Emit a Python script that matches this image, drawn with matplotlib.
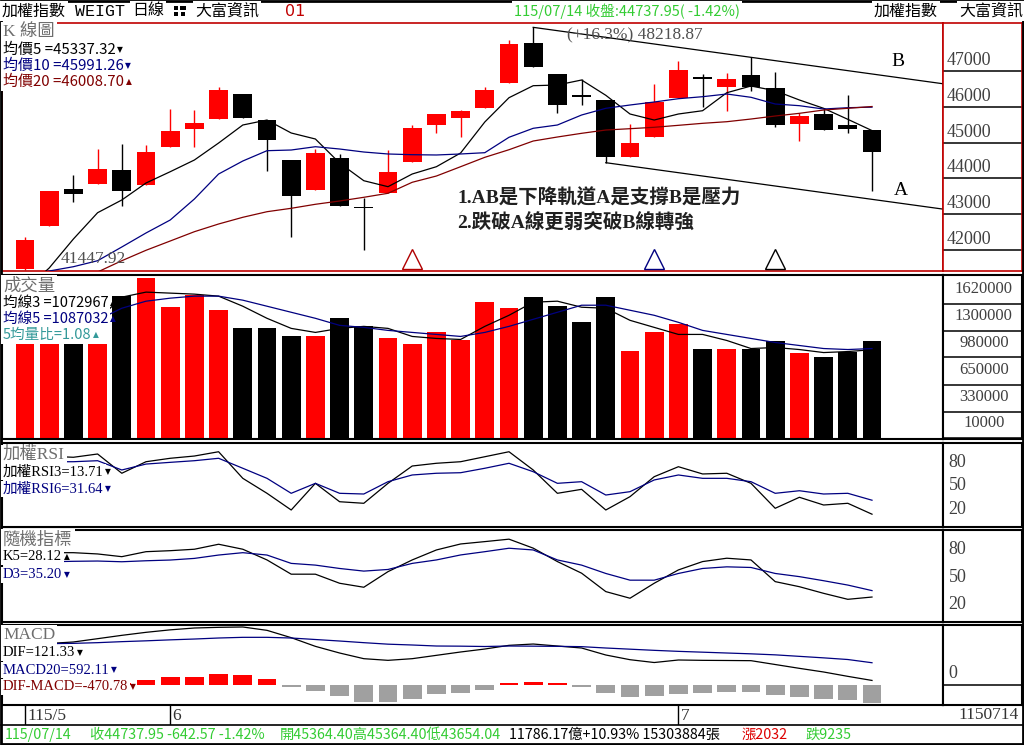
import matplotlib
matplotlib.use("Agg")
import matplotlib.pyplot as plt
from matplotlib.patches import Rectangle
from matplotlib.transforms import blended_transform_factory
import numpy as np

W, H = 1024, 745
SANS = ["Noto Sans CJK TC", "DejaVu Sans"]
SERIF = ["Liberation Serif", "Noto Sans CJK TC"]
MONO = ["Liberation Mono", "Noto Sans CJK TC"]

RED = "#FF0000"
NAVY = "#000080"
MAROON = "#800000"
TITLE_GRAY = "#6E6E6E"
GREEN = "#33CC33"
HIST_GRAY = "#A0A0A0"

# ---------------- data ----------------
opens = [41465, 42682, 43698, 43855, 44237, 43827, 44887, 45390, 45669, 46358,
         45632, 44516, 43687, 44580, 43190, 43603, 44469, 45501, 45688, 45976,
         46673, 47781, 46916, 46330, 46191, 44608, 45166, 46255, 46824, 46562,
         46888, 46534, 45521, 45808, 45493, 45364.40]
highs = [42375, 43660, 44097, 44823, 44963, 44935, 45939, 45912, 46562, 46370,
         45640, 44520, 44815, 44675, 43447, 44795, 45493, 45810, 45900, 46562,
         47865, 48218.87, 46920, 46768, 46200, 45521, 46637, 47279, 46916, 46953,
         47382, 46980, 45819, 45959, 46322, 45364.40]
lows = [41447.92, 42670, 43352, 43855, 43241, 43827, 44887, 44887, 45669, 45690,
        44217, 42375, 43687, 43241, 42004, 43603, 44469, 45278, 45166, 45976,
        46673, 47120, 45836, 46051, 44441, 44608, 45166, 46255, 46004, 45892,
        46450, 45445, 45055, 45362, 45278, 43654.04]
closes = [42283, 43651, 43559, 44265, 43659, 44739, 45325, 45549, 46470, 45697,
          45083, 43520, 44703, 43241, 43170, 44181, 45418, 45800, 45892, 46470,
          47754, 47120, 46059, 46266, 44591, 44982, 46143, 47028, 46768, 46777,
          46562, 45493, 45752, 45362, 45380.52, 44737.95]

ma5 = [40888, 41502, 42311, 43045, 43400, 43874, 44189, 44516, 44990, 45493,
       45632, 45270, 45102, 44432, 43938, 43771, 44125, 44329, 44711, 45577,
       46255, 46590, 46609, 46749, 46322, 45800, 45632, 45800, 45892, 46394,
       46581, 46450, 46191, 45959, 45652, 45337.32]
ma10 = [41278, 41418, 41538, 41705, 42088, 42479, 42841, 43428, 44125, 44488,
        44776, 44795, 44887, 44823, 44739, 44684, 44664, 44656, 44684, 44720,
        45150, 45401, 45493, 45772, 45959, 46051, 46135, 46227, 46283, 46358,
        46266, 46079, 46032, 45939, 45976, 45991.26]
ma20 = [41027, 41167, 41278, 41390, 41705, 41996, 42255, 42515, 42730, 42917,
        43073, 43168, 43280, 43372, 43475, 43587, 43894, 44069, 44329, 44591,
        44803, 45046, 45158, 45261, 45353, 45390, 45429, 45484, 45540, 45585,
        45660, 45744, 45819, 45911, 45959, 46008.70]

volumes = [1136000, 1136000, 1136000, 1136000, 1717000, 1935000, 1587000, 1729000, 1547000, 1329000,
           1329000, 1236000, 1233000, 1450000, 1354000, 1208000, 1136000, 1281000, 1184000, 1644000,
           1572000, 1705000, 1596000, 1402000, 1705000, 1063000, 1281000, 1378000, 1087000, 1087000,
           1087000, 1180000, 1036000, 990000, 1050000, 1178617]
vol_ma3 = [1430000, 1430000, 1430000, 1430000, 1704700, 1765300, 1753200, 1741100, 1716900, 1595800,
           1450500, 1329400, 1281000, 1329400, 1353600, 1329400, 1232600, 1208400, 1196300, 1353600,
           1486800, 1644200, 1656300, 1583700, 1571600, 1426300, 1341500, 1256800, 1256800, 1184100,
           1087300, 1099400, 1075200, 1038900, 1050900, 1072967]
vol_ma5 = [1430000, 1430000, 1430000, 1430000, 1571600, 1656300, 1692600, 1716900, 1716900, 1668400,
           1595800, 1523100, 1450500, 1365800, 1341500, 1305200, 1281000, 1256800, 1232600, 1281000,
           1353600, 1438400, 1523100, 1607900, 1607900, 1547400, 1486800, 1402100, 1305200, 1256800,
           1208400, 1160000, 1123600, 1087300, 1075200, 1087032]

rsi3 = [85, 88, 86.7, 90.9, 66.2, 81, 85.4, 88.3, 93.8, 59.7, 40.5, 19.1, 53.3, 29.7, 27.7, 53.3,
        75.5, 79, 81, 87.4, 93.8, 70.4, 40.5, 45.6, 19.1, 36.2, 61.8, 74.6, 65.3, 66.2, 53.3, 21.3,
        35.4, 25.5, 27.7, 13.71]
rsi6 = [80, 81, 81, 82.3, 70.4, 78, 80.2, 82.3, 85.4, 72.6, 59.7, 40.5, 53.3, 40.5, 39.6, 55.4,
        64, 66.2, 66.9, 72.6, 79, 68.2, 53.3, 55.4, 38.3, 42.6, 57.6, 64, 59.7, 59.7, 55.4, 40.5,
        43.8, 39.6, 40.5, 31.64]

k5 = [76, 77, 77, 75.6, 72.6, 78.1, 79.2, 80.8, 86.3, 80.8, 69, 53.3, 53.3, 43.3, 38.9, 56.1,
      69, 80, 86.6, 89.2, 91.9, 82, 67.2, 54.4, 34.1, 26.8, 43.3, 58, 67.2, 70.9, 69, 45.1,
      39.5, 32.2, 25.6, 28.12]
d3 = [67, 67, 67.5, 67.8, 67, 68.1, 68.9, 70.7, 74.4, 77, 74.4, 65.2, 63.3, 59.6, 56.7, 58.5,
      65.2, 69, 74.5, 78.1, 81.9, 80, 69, 63.3, 54.1, 46.7, 46.7, 54.1, 59.6, 61.4, 60.7, 54.1,
      50.6, 46.1, 41.3, 35.2]

dif = [1100, 1105, 1144, 1232, 1321, 1401, 1467, 1516, 1534, 1543, 1454, 1259, 1028, 851, 700, 656,
       700, 789, 878, 957, 1055, 1090, 1037, 984, 798, 673, 598, 665, 656, 652, 647, 545,
       443, 346, 230, 121.33]
macd = [1095, 1100, 1108, 1126, 1153, 1175, 1201, 1223, 1250, 1268, 1268, 1250, 1210, 1170, 1126, 1086,
        1064, 1037, 1033, 1024, 1037, 1033, 1028, 1020, 984, 953, 922, 895, 873, 851, 829, 802,
        762, 722, 678, 592.11]
osc = [-270, -170, -90, -20, 50, 133, 204, 221, 293, 275, 160, -15, -152, -293, -443, -443,
       -372, -239, -204, -133, 30, 88, 30, -15, -204, -310, -293, -239, -204, -177, -177, -266,
       -310, -381, -400, -470.78]

price_ticks = [47000, 46000, 45000, 44000, 43000, 42000]
vol_ticks = [1620000, 1300000, 980000, 650000, 330000, 10000]
osc_ticks = [80, 50, 20]
month_ticks = [0, 6, 27]
month_labels = ["115/5", "6", "7"]

channel_b = (21, 30)   # B line drawn through the highs of these two bars
channel_a = 24         # A line starts at this bar's low, parallel to B
signal_idx = [16, 26, 31]
signal_colors = ["#B00000", NAVY, "black"]

# ---------------- layout helpers ----------------
BAR_X0, BAR_DX = 25.0, 24.2   # pixel centre of bar 0 and bar pitch

fig = plt.figure(figsize=(W / 100, H / 100), dpi=100)
fig.patch.set_facecolor("white")


def px_axes(x0, y0, x1, y1, **kw):
    return fig.add_axes([x0 / W, 1 - y1 / H, (x1 - x0) / W, (y1 - y0) / H], **kw)


def xr(a, b):
    return ((a - BAR_X0) / BAR_DX, (b - BAR_X0) / BAR_DX)


def frame(ax, color="black", lw=1.5):
    ax.set_xticks([])
    ax.set_yticks([])
    for s in ax.spines.values():
        s.set_color(color)
        s.set_linewidth(lw)


n = len(closes)
idx = np.arange(n)
o, h, l, c = map(np.asarray, (opens, highs, lows, closes))
up = c > o
bar_col = np.where(up, RED, "black")

# ---------------- K panel ----------------
axk = px_axes(2, 23, 943, 271)
axk.set_xlim(*xr(2, 943))
axk.set_ylim(41418, 48340)
frame(axk, "#C00000", 1.2)
axk.vlines(idx, l, h, colors=bar_col, lw=1, zorder=2)
body_lo = np.minimum(o, c)
body_h = np.maximum(np.abs(c - o), 45)
axk.bar(idx, body_h, bottom=body_lo, width=0.78, color=bar_col, lw=0, zorder=3)
axk.plot(idx, ma5, color="black", lw=0.9, zorder=4)
axk.plot(idx, ma10, color=NAVY, lw=0.9, zorder=4)
axk.plot(idx, ma20, color=MAROON, lw=0.9, zorder=4)

b0, b1 = channel_b
slope = (h[b1] - h[b0]) / (b1 - b0)
x_end = axk.get_xlim()[1]
axk.plot([b0, x_end], [h[b0], h[b0] + slope * (x_end - b0)], color="black", lw=0.9, zorder=4)
axk.plot([channel_a, x_end], [l[channel_a], l[channel_a] + slope * (x_end - channel_a)],
         color="black", lw=0.9, zorder=4)

trans = blended_transform_factory(axk.transData, axk.transAxes)
for i, col in zip(signal_idx, signal_colors):
    axk.plot(i, 0.05, marker="^", ms=15, mfc="white", mec=col, mew=1.0,
             transform=trans, zorder=5)

axkr = px_axes(943, 23, 1022, 271)
axkr.set_xlim(0, 1)
axkr.set_ylim(axk.get_ylim())
frame(axkr, "#C00000", 1.2)
for p in price_ticks:
    axkr.axhline(p, color="black", lw=1.1)
    axkr.annotate(f"{p}", xy=(0.05, p), xytext=(0, 1.5), textcoords="offset points",
                  ha="left", va="bottom", fontsize=13, family=SERIF, color="#404040")

axk.annotate(f"(+16.3%) {h[b0]:.2f}", xy=(b0, h[b0]), xytext=(24.5, -6), textcoords="offset points",
             ha="left", va="center", fontsize=12.5, family=SERIF, color="#505050", zorder=6)
i_low = int(np.argmin(l))
axk.annotate(f"{l[i_low]:.2f}", xy=(i_low, l[i_low]), xytext=(26, 8), textcoords="offset points",
             ha="left", va="center", fontsize=12.5, family=SERIF, color="#505050", zorder=6)
axk.text(0.952, 0.843, "B", transform=axk.transAxes, fontsize=14, family=SERIF, ha="center", va="center")
axk.text(0.955, 0.323, "A", transform=axk.transAxes, fontsize=14, family=SERIF, ha="center", va="center")

# ---------------- volume panel ----------------
axv = px_axes(2, 275, 943, 439)
axv.set_xlim(*xr(2, 943))
axv.set_ylim(0, 1971000)
frame(axv)
axv.bar(idx, volumes, width=0.78, color=bar_col, lw=0, zorder=2)
axv.plot(idx, vol_ma3, color="black", lw=0.9, zorder=3)
axv.plot(idx, vol_ma5, color=NAVY, lw=0.9, zorder=3)

axvr = px_axes(943, 275, 1022, 439)
axvr.set_xlim(0, 1)
axvr.set_ylim(axv.get_ylim())
frame(axvr)
for v in vol_ticks:
    axvr.axhline(v, color="black", lw=1.1)
    axvr.annotate(f"{v}", xy=(0.5, v), xytext=(1, 5), textcoords="offset points",
                  ha="center", va="bottom", fontsize=12, family=SERIF, color="#404040")

# ---------------- RSI / KD panels ----------------
def osc_panel(y0, y1, lim, s1, s2):
    ax = px_axes(2, y0, 943, y1)
    ax.set_xlim(*xr(2, 943))
    ax.set_ylim(*lim)
    frame(ax)
    ax.plot(idx, s1, color="black", lw=0.9)
    ax.plot(idx, s2, color=NAVY, lw=0.9)
    axr = px_axes(943, y0, 1022, y1)
    axr.set_xlim(0, 1)
    axr.set_ylim(*lim)
    frame(axr)
    for t in osc_ticks:
        axr.text(0.07, t, f"{t}", ha="left", va="center", fontsize=13, family=SERIF, color="#404040")
    return ax


ax_rsi = osc_panel(443, 527, (-2.7, 105), rsi3, rsi6)
ax_kd = osc_panel(530, 622, (0.6, 102), k5, d3)

# ---------------- MACD panel ----------------
axm = px_axes(2, 625, 943, 705)
axm.set_xlim(*xr(2, 943))
axm.set_ylim(-532, 1596)
frame(axm)
osc_arr = np.asarray(osc)
osc_draw = np.where(np.abs(osc_arr) < 40, np.sign(osc_arr) * 40, osc_arr)
axm.bar(idx, osc_draw, width=0.78, color=np.where(osc_arr > 0, RED, HIST_GRAY), lw=0, zorder=2)
axm.plot(idx, dif, color="black", lw=0.9, zorder=3)
axm.plot(idx, macd, color=NAVY, lw=0.9, zorder=3)

axmr = px_axes(943, 625, 1022, 705)
axmr.set_xlim(0, 1)
axmr.set_ylim(axm.get_ylim())
frame(axmr)
axmr.axhline(0, color="black", lw=1.1)
axmr.annotate("0", xy=(0.07, 0), xytext=(0, 2), textcoords="offset points",
              ha="left", va="bottom", fontsize=13, family=SERIF, color="#404040")

# ---------------- date row ----------------
axd = px_axes(2, 706, 943, 725)
axd.set_xlim(*xr(2, 943))
axd.set_ylim(0, 1)
axd.axis("off")
for t, s in zip(month_ticks, month_labels):
    axd.axvline(t, color="black", lw=1)
    axd.text(t + 0.1, 0.45, s, ha="left", va="center", fontsize=12.5, family=SERIF, color="#333333")

# ---------------- overlay: header, footer, legends ----------------
bg = fig.add_axes([0, 0, 1, 1], zorder=10)
bg.set_xlim(0, W)
bg.set_ylim(H, 0)
bg.axis("off")
bg.patch.set_alpha(0)

bg.add_patch(Rectangle((1, 1), W - 2, H - 2, fill=False, ec="black", lw=2))
bg.plot([1, W - 1], [725, 725], color="black", lw=1.2)
bg.text(1019, 715, "1150714", ha="right", va="center", fontsize=12.5, family=SERIF, color="#333333")


def label(x, y, s, color, size, family=SANS, mark=None):
    t = bg.text(x, y, s, color=color, fontsize=size, family=family, ha="left", va="center",
                bbox=dict(boxstyle="square,pad=0.12", fc="white", ec="none"))
    if mark:
        bg.annotate(mark, xy=(1, 0.22), xycoords=t, xytext=(1.2, 0), textcoords="offset points",
                    ha="left", va="bottom", fontsize=5.5, color=color, family=["DejaVu Sans"])
    return t


# header
label(2, 11, "加權指數", "black", 11.5)
bg.text(75, 11, "WEIGT", fontsize=12, family=MONO, ha="left", va="center")
label(132, 11, "日線", "black", 11.5)
for rx, ry, rw in [(174, 6, 4), (180, 6, 6), (174, 12, 4), (181, 12, 4)]:
    bg.add_patch(Rectangle((rx, ry), rw, 4, color="black", lw=0))
label(195, 11, "大富資訊", "black", 11.5)
bg.text(285, 11, "01", fontsize=11.5, family=["DejaVu Sans"], color="#C00000", ha="left", va="center")
label(514, 11, "115/07/14 收盤:44737.95( -1.42%)", GREEN, 10.5)
label(874, 11, "加權指數", "black", 11.5)
label(959, 11, "大富資訊", "black", 11.5)

# K panel legends
label(3, 32, "K 線圖", TITLE_GRAY, 12.5, SERIF)
label(3, 50, "均價5 =45337.32", "black", 10.8, mark="▼")
label(3, 66, "均價10 =45991.26", NAVY, 10.8, mark="▼")
label(3, 82, "均價20 =46008.70", MAROON, 10.8, mark="▲")
bg.text(457, 198, "1.AB是下降軌道A是支撐B是壓力", fontsize=14, family=SERIF, color="#202020",
        ha="left", va="center", weight="bold")
bg.text(457, 223, "2.跌破A線更弱突破B線轉強", fontsize=14, family=SERIF, color="#202020",
        ha="left", va="center", weight="bold")

# volume legends
label(3, 286, "成交量", TITLE_GRAY, 12.5)
label(3, 303, "均線3 =1072967", "black", 10.5, mark="▲")
label(3, 319, "均線5 =1087032", NAVY, 10.5, mark="▲")
label(3, 335, "5均量比=1.08", "#339999", 10.5, mark="▲")

# RSI legends
label(3, 455, "加權RSI", TITLE_GRAY, 12.5, SERIF)
label(3, 472, "加權RSI3=13.71", "black", 10.5, SERIF, mark="▼")
label(3, 489, "加權RSI6=31.64", NAVY, 10.5, SERIF, mark="▼")

# KD legends
label(3, 540, "隨機指標", TITLE_GRAY, 12.5)
label(3, 557, "K5=28.12", "black", 10.5, SERIF, mark="▲")
label(3, 575, "D3=35.20", NAVY, 10.5, SERIF, mark="▼")

# MACD legends
label(3, 635, "MACD", TITLE_GRAY, 12.5, SERIF)
label(3, 653, "DIF=121.33", "black", 10.5, SERIF, mark="▼")
label(3, 670, "MACD20=592.11", NAVY, 10.5, SERIF, mark="▼")
label(3, 687, "DIF-MACD=-470.78", MAROON, 10.5, SERIF, mark="▼")

# footer
FOOT = 10.3
bg.text(5, 735, "115/07/14", fontsize=FOOT, family=SANS, color=GREEN, ha="left", va="center")
bg.text(90, 735, "收44737.95 -642.57 -1.42%", fontsize=FOOT, family=SANS, color=GREEN, ha="left", va="center")
bg.text(280, 735, "開45364.40高45364.40低43654.04", fontsize=FOOT, family=SANS, color=GREEN,
        ha="left", va="center")
bg.text(509, 735, "11786.17億+10.93% 15303884張", fontsize=FOOT, family=SANS, color="black",
        ha="left", va="center")
bg.text(742, 735, "漲2032", fontsize=FOOT, family=SANS, color="#DD0000", ha="left", va="center")
bg.text(805, 735, "跌9235", fontsize=FOOT, family=SANS, color=GREEN, ha="left", va="center")

fig.savefig("out.png", dpi=100)
